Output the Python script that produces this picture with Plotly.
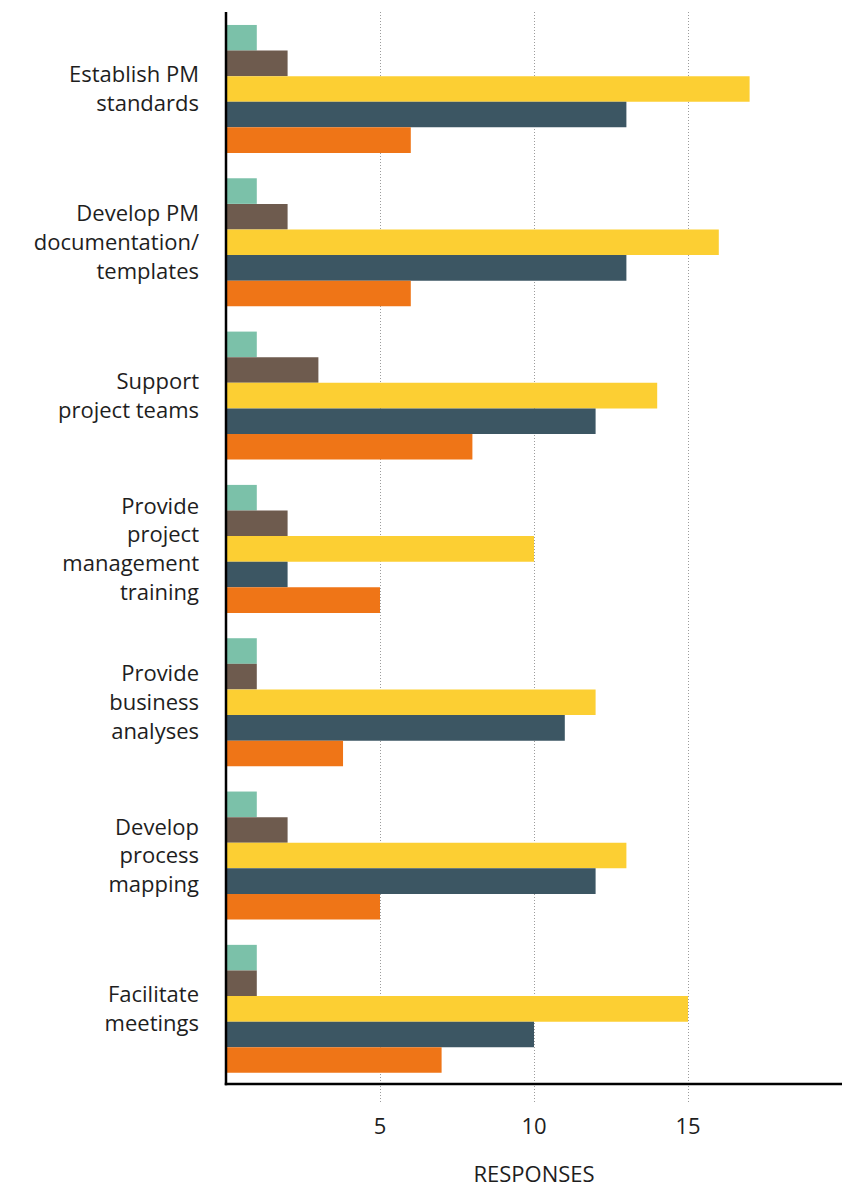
import plotly.graph_objects as go

# Survey: what the PMO does, number of responses per option
categories = [
    "Establish PM<br>standards",
    "Develop PM<br>documentation/<br>templates",
    "Support<br>project teams",
    "Provide<br>project<br>management<br>training",
    "Provide<br>business<br>analyses",
    "Develop<br>process<br>mapping",
    "Facilitate<br>meetings",
]

series_a = [1, 1, 1, 1, 1, 1, 1]          # teal
series_b = [2, 2, 3, 2, 1, 2, 1]          # brown
series_c = [17, 16, 14, 10, 12, 13, 15]   # yellow
series_d = [13, 13, 12, 2, 11, 12, 10]    # slate
series_e = [6, 6, 8, 5, 3.8, 5, 7]        # orange

x_ticks = [5, 10, 15]

colors = ["#7BC1A9", "#6E5B4E", "#FCCF33", "#3C5663", "#EF7517"]
all_series = [series_a, series_b, series_c, series_d, series_e]

fig = go.Figure()
for vals, col in zip(all_series, colors):
    fig.add_trace(go.Bar(
        y=categories, x=vals, orientation="h",
        marker=dict(color=col, line=dict(width=0)),
        showlegend=False,
    ))

font_family = "Open Sans, Lato, sans-serif"

fig.update_layout(
    width=855, height=1188,
    margin=dict(l=226, r=13, t=12, b=85),
    paper_bgcolor="white", plot_bgcolor="white",
    barmode="group", bargap=0.165, bargroupgap=0,
    font=dict(family=font_family, size=22, color="#1e1e1e"),
    xaxis=dict(
        range=[0, 20], tickvals=x_ticks, ticktext=[str(v) for v in x_ticks],
        showgrid=True, gridcolor="#9c9c9c", gridwidth=1, griddash="1px,2px",
        zeroline=False, showline=False, ticks="",
        tickfont=dict(size=22), ticklabelstandoff=8,
        title=dict(text="RESPONSES", font=dict(size=22), standoff=38),
        automargin=False,
    ),
    yaxis=dict(
        type="category", range=[6.614, -0.502],
        showgrid=False, zeroline=False, showline=False, ticks="",
        ticklabelstandoff=26,
        tickfont=dict(size=22),
        automargin=False,
    ),
    shapes=[
        # baseline of the value axis
        dict(type="line", xref="paper", yref="paper",
             x0=-0.002, x1=1.0, y0=0.0174, y1=0.0174,
             line=dict(color="black", width=2.5)),
        # category axis line
        dict(type="line", xref="paper", yref="paper",
             x0=0, x1=0, y0=0.0163, y1=1.0,
             line=dict(color="black", width=2.5)),
    ],
)

fig.write_html("out.html")
